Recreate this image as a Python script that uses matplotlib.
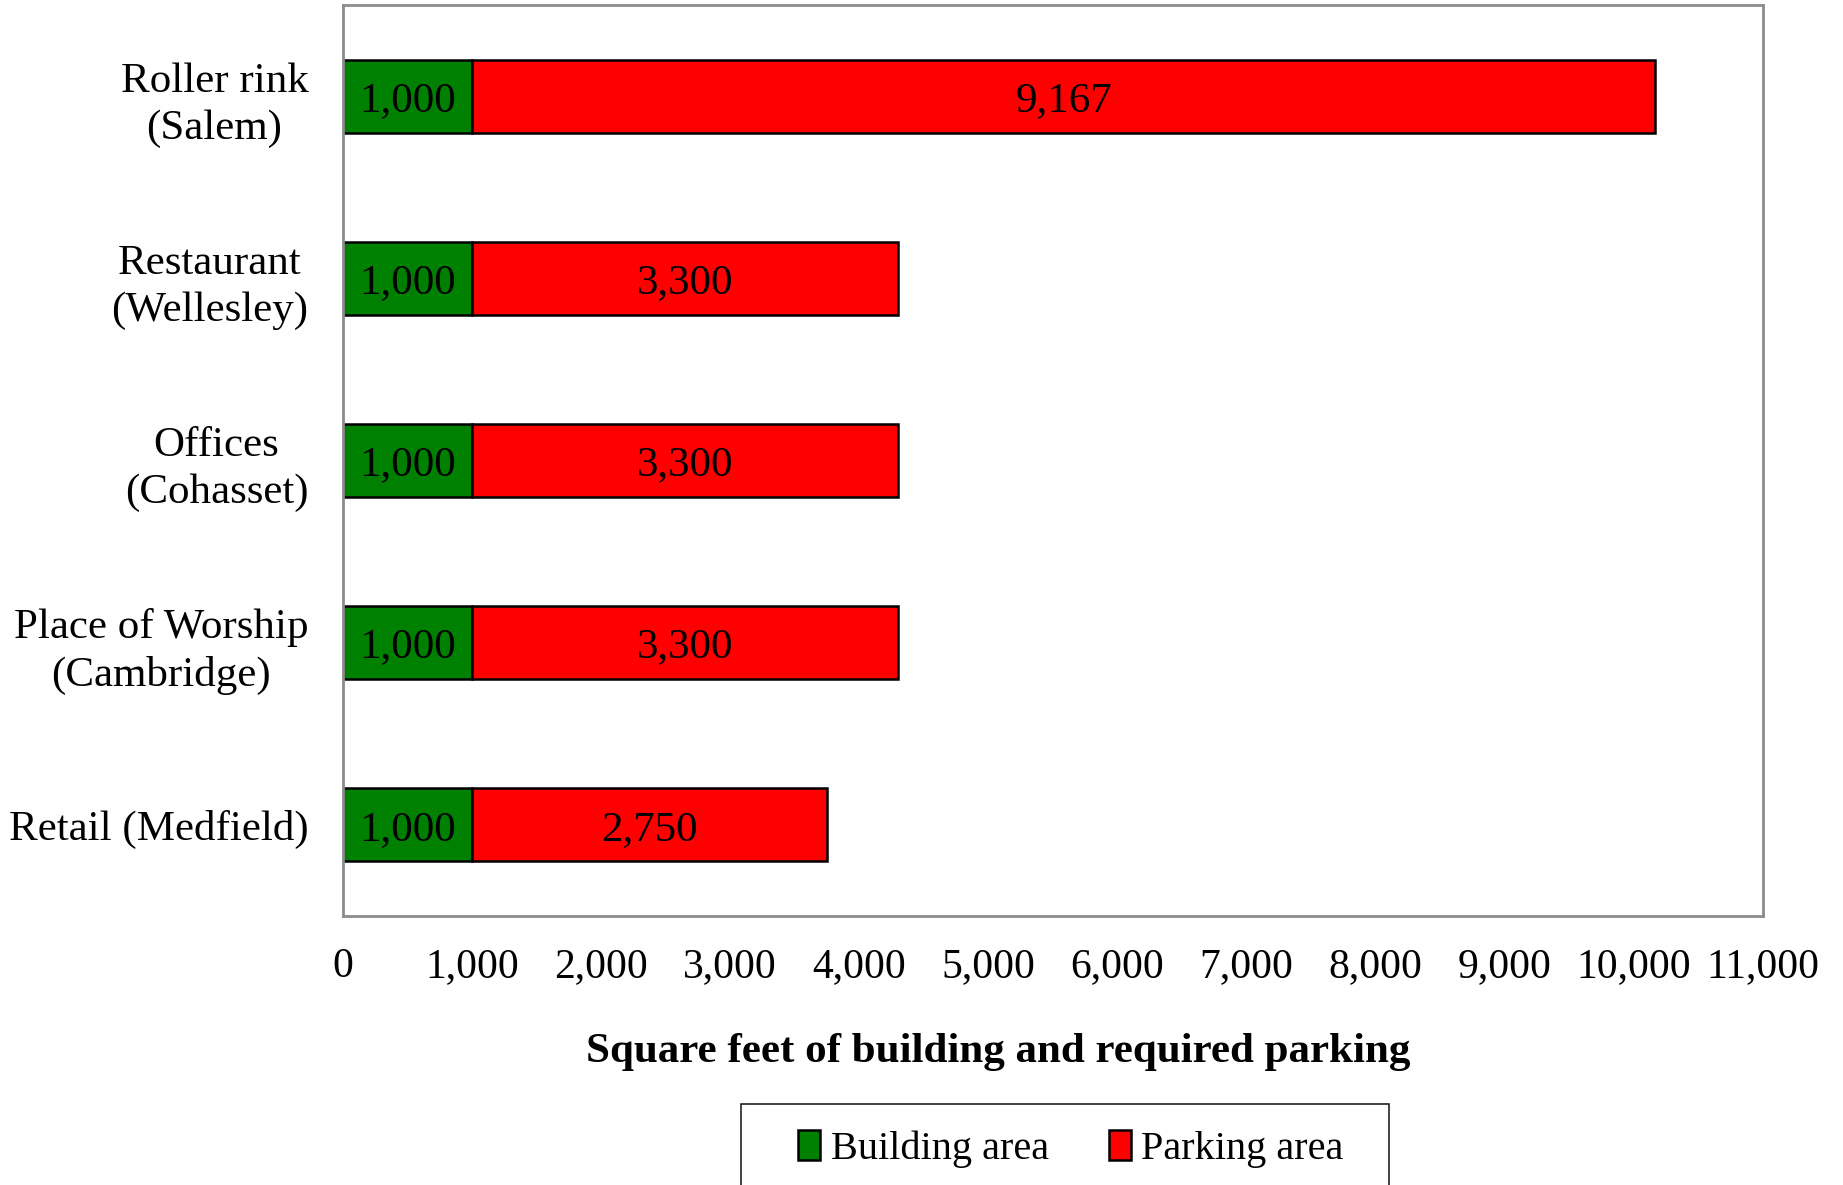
import matplotlib.pyplot as plt
from matplotlib.patches import Rectangle
from matplotlib.ticker import FuncFormatter

plt.rcParams['font.family'] = ['Liberation Serif', 'DejaVu Serif']

categories = ['Retail (Medfield)', 'Place of Worship\n(Cambridge)', 'Offices\n(Cohasset)',
              'Restaurant\n(Wellesley)', 'Roller rink\n(Salem)']
building = [1000, 1000, 1000, 1000, 1000]
parking = [2750, 3300, 3300, 3300, 9167]

W, H = 1843, 1185
fig = plt.figure(figsize=(W / 100, H / 100), dpi=100)
ax = fig.add_axes([343 / W, 1 - 916 / H, (1763 - 343) / W, (916 - 5) / H])

y = range(len(categories))
b1 = ax.barh(y, building, height=0.4, color='#008000', edgecolor='black', linewidth=1.8,
             label='Building area')
b2 = ax.barh(y, parking, left=building, height=0.4, color='#FF0000', edgecolor='black',
             linewidth=1.8, label='Parking area')

# value labels inside each segment
for bars, vals in ((b1, building), (b2, parking)):
    for rect, v in zip(bars, vals):
        ax.text(rect.get_x() + rect.get_width() / 2, rect.get_y() + rect.get_height() / 2 - 0.025,
                '{:,}'.format(v), ha='center', va='center', fontsize=31)

ax.set_xlim(0, 11000)
ax.set_ylim(-0.5, 4.5)
ax.set_xticks(range(0, 11001, 1000))
ax.xaxis.set_major_formatter(FuncFormatter(lambda v, p: '{:,}'.format(int(v))))
ax.set_yticks(list(y))
ax.set_yticklabels(categories, multialignment='center', linespacing=1.3)
ax.tick_params(axis='both', length=0)
ax.tick_params(axis='x', pad=23, labelsize=30)
ax.tick_params(axis='y', pad=25, labelsize=31)

for s in ax.spines.values():
    s.set_color('#8c8c8c')
    s.set_linewidth(2)

fig.text(998 / W, 1 - 1052 / H, 'Square feet of building and required parking',
         fontsize=31, fontweight='bold', ha='center', va='center')

# legend box runs off the bottom edge, so draw the frame separately
fig.patches.append(Rectangle((741 / W, -0.05), (1389 - 741) / W, 0.05 + 1 - 1104 / H,
                             transform=fig.transFigure, fill=False, edgecolor='#222222',
                             linewidth=1.2, clip_on=False))
leg = fig.legend(handles=[b1, b2], loc='upper center', bbox_to_anchor=(1071 / W, 1 - 1102 / H),
                 borderaxespad=0, ncol=2, fontsize=29, frameon=False,
                 handlelength=0.55, handleheight=0.75, handletextpad=0.25,
                 columnspacing=1.5, borderpad=0.7)

fig.savefig('out.png', dpi=100)
